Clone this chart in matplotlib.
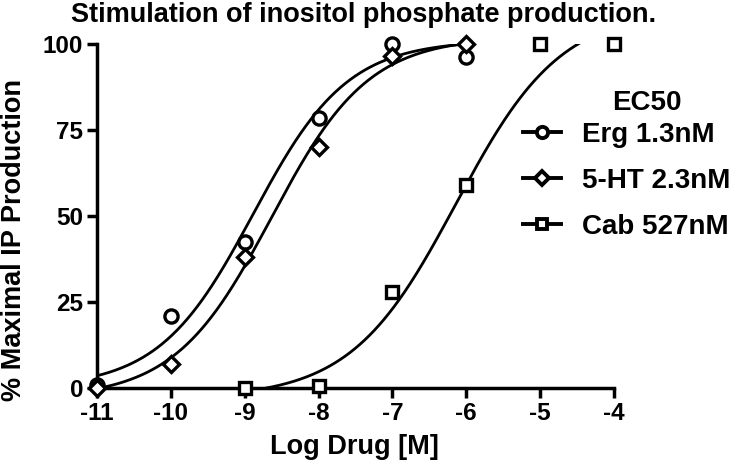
import numpy as np
import matplotlib
matplotlib.use("Agg")
import matplotlib.pyplot as plt

plt.rcParams['font.family'] = ['Liberation Sans', 'DejaVu Sans']
plt.rcParams['font.weight'] = 'bold'
plt.rcParams['axes.unicode_minus'] = False

log_dose = [-11, -10, -9, -8, -7, -6]
erg = [1, 21, 42.5, 78.5, 100, 96]
ht5 = [0, 7, 38, 70, 96.5, 100]

cab_dose = [-9, -8, -7, -6, -5, -4]
cab = [0, 0.5, 28, 59, 100, 100]

labels = ['Erg 1.3nM', '5-HT 2.3nM', 'Cab 527nM']
markers = ['o', 'D', 's']

# fitted curve parameters: bottom, top, logEC50, hill slope, x range
fits = [
    (0, 101, -8.886, 0.68, (-11, -6)),
    (-3, 102, -8.638, 0.66, (-11, -6)),
    (-3, 110, -6.14, 0.61, (-9, -4)),
]

def sigmoid(x, bottom, top, logec50, hill):
    return bottom + (top - bottom) / (1 + 10 ** ((logec50 - x) * hill))

W, H = 734, 471
fig = plt.figure(figsize=(W / 100, H / 100), dpi=100)
ax = fig.add_axes([97 / W, 1 - 388 / H, 517 / W, 344.3 / H])

datasets = [(log_dose, erg), (log_dose, ht5), (cab_dose, cab)]
msizes = [9.5, 8.5, 9]
for (xs, ys), m, ms, lab, fit in zip(datasets, markers, msizes, labels, fits):
    b, t, c, h, (x0, x1) = fit
    xx = np.linspace(x0, x1, 300)
    ax.plot(xx, sigmoid(xx, b, t, c, h), color='black', lw=2)
    ax.plot(xs, ys, linestyle='none', marker=m, ms=ms, mfc='white',
            mec='black', mew=2.4, clip_on=False, zorder=5)
    # legend proxy
    ax.plot([], [], color='black', lw=2.8, marker=m, ms=ms * 0.85,
            mfc='white', mec='black', mew=2.8, label=lab)

ax.set_xlim(-11, -4)
ax.set_ylim(0, 100)
ax.set_xticks(range(-11, -3))
ax.set_yticks([0, 25, 50, 75, 100])
for s in ['top', 'right']:
    ax.spines[s].set_visible(False)
for s in ['left', 'bottom']:
    ax.spines[s].set_linewidth(2.5)
ax.tick_params(width=2.5, length=7, labelsize=17.5, pad=3)
for lbl in ax.get_xticklabels() + ax.get_yticklabels():
    lbl.set_fontweight('bold')

fig.text(354 / W, 1 - 447 / H, 'Log Drug [M]', ha='center', va='center',
         fontsize=19.5, fontweight='bold')
fig.text(14 / W, 1 - 240 / H, '% Maximal IP Production', ha='center', va='center',
         rotation=90, fontsize=19.5, fontweight='bold')
fig.text(364 / W, 1 - 15 / H, 'Stimulation of inositol phosphate production.',
         ha='center', va='center', fontsize=19.5, fontweight='bold')
fig.text(647 / W, 1 - 103 / H, 'EC50', ha='center', va='center',
         fontsize=20, fontweight='bold')

leg = ax.legend(loc='upper left', bbox_to_anchor=(523 / W, 1 - 122 / H),
                bbox_transform=fig.transFigure, frameon=False, borderpad=0,
                borderaxespad=0, prop={'size': 20, 'weight': 'bold'},
                handlelength=1.37, labelspacing=0.72, handletextpad=0.75)

fig.savefig('out.png', dpi=100)
